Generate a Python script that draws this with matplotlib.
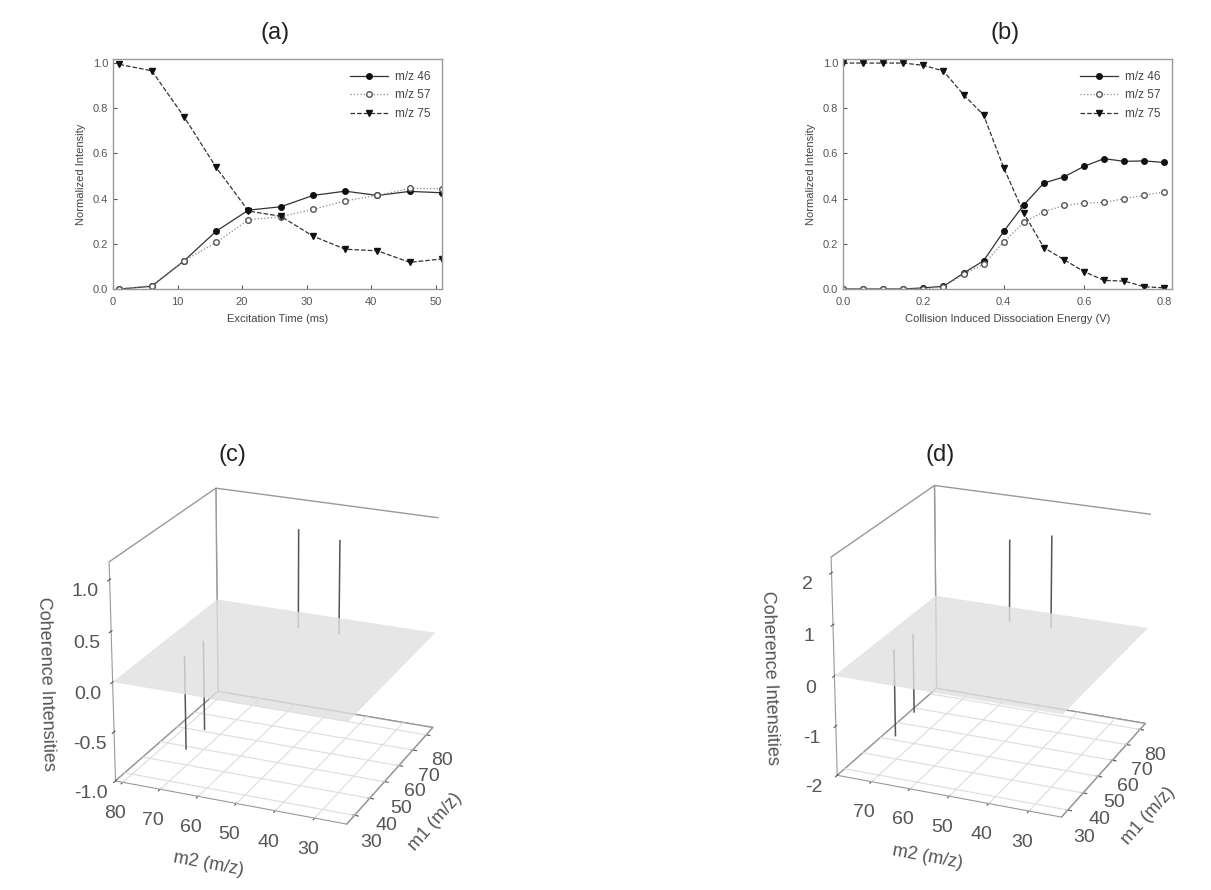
import numpy as np
import matplotlib
matplotlib.use("Agg")
import matplotlib.pyplot as plt

# ---------------- data ----------------
time_ms = [1, 6, 11, 16, 21, 26, 31, 36, 41, 46, 51]
a_mz46 = [0.0, 0.012, 0.124, 0.256, 0.349, 0.364, 0.414, 0.433, 0.414, 0.432, 0.426]
a_mz57 = [0.0, 0.015, 0.125, 0.206, 0.306, 0.320, 0.352, 0.390, 0.414, 0.445, 0.444]
a_mz75 = [0.994, 0.966, 0.763, 0.538, 0.345, 0.322, 0.234, 0.176, 0.169, 0.118, 0.133]

cid_v = [0.0, 0.05, 0.10, 0.15, 0.20, 0.25, 0.30, 0.35, 0.40, 0.45, 0.50, 0.55, 0.60, 0.65, 0.70, 0.75, 0.80]
b_mz46 = [0.0, 0.0, 0.0, 0.0, 0.005, 0.012, 0.07, 0.125, 0.255, 0.372, 0.469, 0.496, 0.543, 0.577, 0.565, 0.567, 0.56]
b_mz57 = [0.0, 0.0, 0.0, 0.0, 0.0, 0.01, 0.065, 0.11, 0.208, 0.295, 0.342, 0.37, 0.38, 0.383, 0.40, 0.415, 0.43]
b_mz75 = [1.0, 1.0, 1.0, 1.0, 0.99, 0.965, 0.86, 0.77, 0.537, 0.336, 0.183, 0.13, 0.077, 0.038, 0.035, 0.01, 0.005]

series_labels = ["m/z 46", "m/z 57", "m/z 75"]

# 2D coherence peaks (m1, m2, intensity)
peak_m1 = [75, 75, 46, 57]
peak_m2 = [55, 44, 73, 73]
peak_c = [1.0, 0.95, -0.95, -0.92]
peak_d = [1.65, 1.85, -1.75, -1.6]

m_ticks = [30, 40, 50, 60, 70, 80]
c_zticks = [-1.0, -0.5, 0.0, 0.5, 1.0]
d_zticks = [-2, -1, 0, 1, 2]

# ---------------- figure ----------------
W, H = 1211, 890
fig = plt.figure(figsize=(W / 100, H / 100), dpi=100)
plt.rcParams['font.family'] = ['Liberation Sans', 'DejaVu Sans']

def box(l, t, r, b):
    return [l / W, 1 - b / H, (r - l) / W, (b - t) / H]

tick_col = '#555555'
line_col = '#333333'

def style2d(ax):
    for s in ax.spines.values():
        s.set_color('#999999')
        s.set_linewidth(1.0)
    ax.tick_params(colors=tick_col, labelsize=8, length=3, width=0.8, direction='in')
    ax.tick_params(axis='x', pad=6)

def draw2d(ax, x, y46, y57, y75):
    ax.plot(x, y46, '-', color=line_col, lw=0.9, marker='o', ms=4,
            mfc='#111111', mec='#111111', label=series_labels[0])
    ax.plot(x, y57, ':', color='#888888', lw=0.9, marker='o', ms=4,
            mfc='white', mec='#555555', label=series_labels[1])
    ax.plot(x, y75, '--', color=line_col, lw=0.9, marker='v', ms=4.5,
            mfc='#111111', mec='#111111', label=series_labels[2])
    leg = ax.legend(loc='upper right', frameon=False, fontsize=8.5,
                    handlelength=3.2, labelspacing=0.55, borderaxespad=0.6,
                    handletextpad=0.6)
    for t in leg.get_texts():
        t.set_color('#444444')

# (a)
axa = fig.add_axes(box(113, 59, 442, 289))
draw2d(axa, time_ms, a_mz46, a_mz57, a_mz75)
axa.set_xlim(0, 51)
axa.set_ylim(0, 1.018)
axa.set_xticks([0, 10, 20, 30, 40, 50])
axa.set_yticks([0.0, 0.2, 0.4, 0.6, 0.8, 1.0])
axa.yaxis.set_major_formatter(matplotlib.ticker.FormatStrFormatter('%.1f'))
style2d(axa)
axa.set_xlabel('Excitation Time (ms)', fontsize=8, color='#444444', labelpad=5)
axa.set_ylabel('Normalized Intensity', fontsize=8, color='#444444', labelpad=5)
fig.text(275 / W, 1 - 33 / H, '(a)', fontsize=17, ha='center', va='center', color='#222222')

# (b)
axb = fig.add_axes(box(843, 59, 1172, 289))
draw2d(axb, cid_v, b_mz46, b_mz57, b_mz75)
axb.set_xlim(0, 0.819)
axb.set_ylim(0, 1.018)
axb.set_xticks([0.0, 0.2, 0.4, 0.6, 0.8])
axb.set_yticks([0.0, 0.2, 0.4, 0.6, 0.8, 1.0])
axb.xaxis.set_major_formatter(matplotlib.ticker.FormatStrFormatter('%.1f'))
axb.yaxis.set_major_formatter(matplotlib.ticker.FormatStrFormatter('%.1f'))
style2d(axb)
axb.set_xlabel('Collision Induced Dissociation Energy (V)', fontsize=8, color='#444444', labelpad=5)
axb.set_ylabel('Normalized Intensity', fontsize=8, color='#444444', labelpad=5)
fig.text(1005 / W, 1 - 33 / H, '(b)', fontsize=17, ha='center', va='center', color='#222222')

# 3D panels
def draw3d(rect, vals, zlim, zticks, zfmt, m1lim, m2lim, m2ticks, zoom, zasp):
    ax = fig.add_axes(rect, projection='3d')
    ax.set_xlim(*m1lim)
    ax.set_ylim(*m2lim)
    ax.set_zlim(*zlim)
    ax.set_box_aspect((4, 4, zasp), zoom=zoom)
    # flat plane at zero
    g1 = np.linspace(m1lim[0], m1lim[1], 2)
    g2 = np.linspace(m2lim[0], m2lim[1], 2)
    G1, G2 = np.meshgrid(g1, g2)
    ax.plot_surface(G1, G2, np.zeros_like(G1), color='#e0e0e0', alpha=0.8,
                    shade=False, linewidth=0, antialiased=True)
    # floor grid
    for t in m_ticks:
        ax.plot([t, t], [m2lim[0], m2lim[1]], [zlim[0], zlim[0]], color='#dddddd', lw=0.8)
    for t in m2ticks:
        ax.plot([m1lim[0], m1lim[1]], [t, t], [zlim[0], zlim[0]], color='#dddddd', lw=0.8)
    # spikes
    for m1, m2, v in zip(peak_m1, peak_m2, vals):
        ax.plot([m1, m1], [m2, m2], [0, v], color='#555555', lw=1.1)
    ax.grid(False)
    for axis in (ax.xaxis, ax.yaxis, ax.zaxis):
        axis.set_pane_color((1, 1, 1, 1))
        axis.pane.set_edgecolor('#999999')
        axis.line.set_color('#999999')
    ax.set_xticks(m_ticks)
    ax.set_yticks(m2ticks)
    ax.set_zticks(zticks)
    ax.set_zticklabels([zfmt % z for z in zticks])
    ax.tick_params(colors=tick_col, labelsize=14)
    ax.set_xlabel('m1 (m/z)', fontsize=13, color=tick_col, labelpad=10)
    ax.set_ylabel('m2 (m/z)', fontsize=13, color=tick_col, labelpad=10)
    ax.set_zlabel('Coherence Intensities', fontsize=13, color=tick_col, labelpad=10)
    ax.view_init(elev=22, azim=-157)
    return ax

axc = draw3d([0.025, 0.025, 0.40, 0.48], peak_c, (-1.0, 1.17), c_zticks, '%.1f',
             (25, 85), (22, 82), m_ticks, 0.95, 3.75)
fig.text(232 / W, 1 - 455 / H, '(c)', fontsize=17, ha='center', va='center', color='#222222')
axd = draw3d([0.617, 0.03, 0.40, 0.48], peak_d, (-2.0, 2.3), d_zticks, '%d',
             (26, 84), (22, 79), [30, 40, 50, 60, 70], 0.93, 3.85)
fig.text(940 / W, 1 - 455 / H, '(d)', fontsize=17, ha='center', va='center', color='#222222')

fig.savefig('out.png', dpi=100)
